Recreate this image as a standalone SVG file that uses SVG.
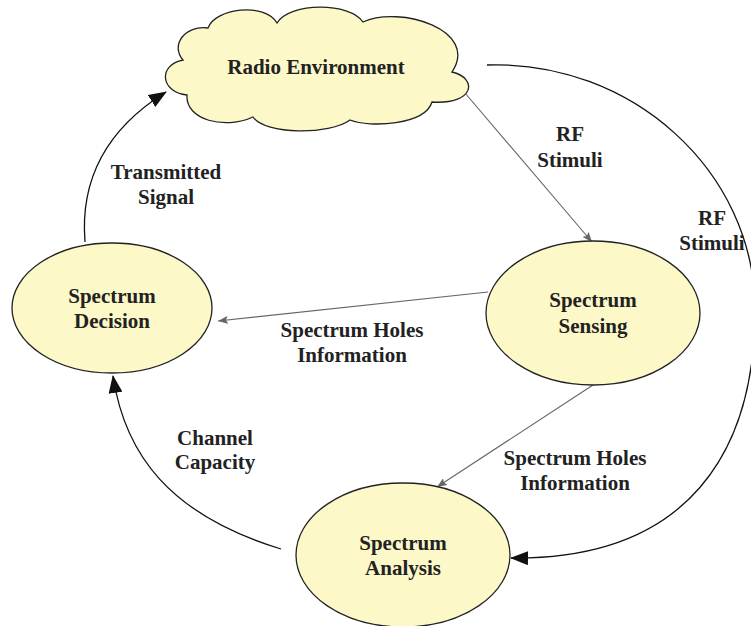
<svg xmlns="http://www.w3.org/2000/svg" width="751" height="626" viewBox="0 0 751 626">
<style>
.node{fill:#FCF8C8;stroke:#222;stroke-width:1.3}
.lbl{font-family:"Liberation Serif","Times New Roman",serif;font-weight:bold;font-size:21px;fill:#222;text-anchor:middle}
.blk{fill:none;stroke:#111;stroke-width:1.3}
.gry{fill:none;stroke:#666;stroke-width:1.1}
</style>
<defs>
<marker id="big" viewBox="0 0 18 14" refX="17" refY="7" markerWidth="18" markerHeight="14" markerUnits="userSpaceOnUse" orient="auto">
<path d="M0,0 L18,7 L0,14 z" fill="#111"/>
</marker>
<marker id="sm" viewBox="0 0 10 8" refX="10" refY="4" markerWidth="10" markerHeight="8" markerUnits="userSpaceOnUse" orient="auto">
<path d="M0,0 L10,4 L0,8 L2,4 z" fill="#666"/>
</marker>
</defs>
<g id="connectors">
<path class="gry" d="M465,93 L592,242" marker-end="url(#sm)"/>
<path class="gry" d="M488,292 L218,321" marker-end="url(#sm)"/>
<path class="gry" d="M593,385 L437,487" marker-end="url(#sm)"/>
<path class="blk" d="M85,242 C80,180 105,130 166,92" marker-end="url(#big)"/>
<path class="blk" d="M281,549 C170,515 125,455 113,376" marker-end="url(#big)"/>
<path class="blk" d="M487,65 C630,60 755,170 755,310 C755,450 690,560 511,558" marker-end="url(#big)"/>
<text class="lbl" x="570" y="141">RF</text>
<text class="lbl" x="570" y="167">Stimuli</text>
<text class="lbl" x="712" y="225">RF</text>
<text class="lbl" x="712" y="250">Stimuli</text>
<text class="lbl" x="166" y="179">Transmitted</text>
<text class="lbl" x="166" y="204">Signal</text>
<text class="lbl" x="352" y="337">Spectrum Holes</text>
<text class="lbl" x="352" y="362">Information</text>
<text class="lbl" x="575" y="465">Spectrum Holes</text>
<text class="lbl" x="575" y="490">Information</text>
<text class="lbl" x="215" y="445">Channel</text>
<text class="lbl" x="215" y="469">Capacity</text>
</g>
<g id="radio-environment">
<path class="node" d="M187,95 C160,92 158,65 183,60 C170,45 185,25 208,28 C215,8 265,2 277,23 C290,2 350,2 363,22 C400,5 480,30 452,72 C478,78 475,105 432,102 C425,125 370,128 350,120 C330,135 265,135 253,117 C225,130 185,120 187,95 Z"/>
<text class="lbl" x="316" y="74">Radio Environment</text>
</g>
<g id="spectrum-sensing">
<ellipse class="node" cx="593" cy="313" rx="107" ry="72"/>
<text class="lbl" x="593" y="307">Spectrum</text>
<text class="lbl" x="593" y="333">Sensing</text>
</g>
<g id="spectrum-decision">
<ellipse class="node" cx="112" cy="308" rx="100" ry="65"/>
<text class="lbl" x="112" y="303">Spectrum</text>
<text class="lbl" x="112" y="328">Decision</text>
</g>
<g id="spectrum-analysis">
<ellipse class="node" cx="403" cy="555" rx="107" ry="72"/>
<text class="lbl" x="403" y="550">Spectrum</text>
<text class="lbl" x="403" y="575">Analysis</text>
</g>
</svg>
